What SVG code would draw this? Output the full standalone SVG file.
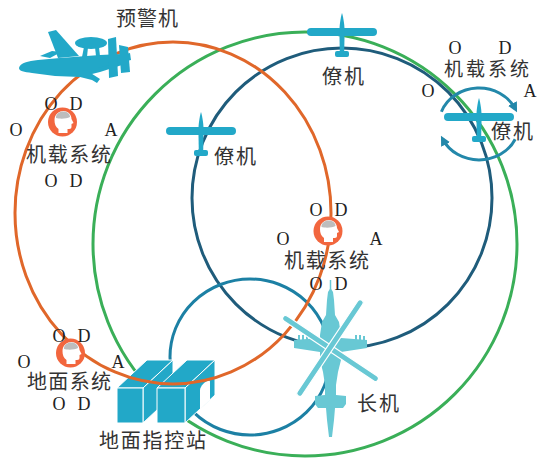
<svg xmlns="http://www.w3.org/2000/svg" xmlns:xlink="http://www.w3.org/1999/xlink" width="538" height="459" viewBox="0 0 538 459">
  <style>
    .ring { fill: none; stroke-width: 3; }
    .lbl { font-family: "Liberation Serif", "Noto Sans CJK SC", serif; font-size: 20px; fill: #333; }
    .oda { font-family: "Liberation Serif", serif; font-size: 18px; fill: #222; }
    .craft { fill: #22A8C8; }
    .heli { fill: #68C8D4; }
    .station path { fill: #22A8C8; stroke: #fff; stroke-width: 1; stroke-linejoin: round; }
    .station path.opening { fill: #fff; stroke: none; }
    .spin { fill: none; stroke: #2388AA; stroke-width: 3; marker-end: url(#spin-head); }
  </style>
  <defs>
    <marker id="spin-head" viewBox="0 0 10 10" refX="6" refY="5" markerWidth="10" markerHeight="10" markerUnits="userSpaceOnUse" orient="auto">
      <path d="M0,0 L10,5 L0,10 Z" fill="#2388AA"/>
    </marker>
    <!-- small fixed-wing drone, fuselage on x=0, wing centred on y=0 -->
    <g id="uav-shape">
      <rect class="craft" x="-35" y="-4" width="70" height="8" rx="4"/>
      <path class="craft" d="M0,-19 C1.6,-14 2.6,-6 2.6,0 L2.2,20 L-2.2,20 L-2.6,0 C-2.6,-6 -1.6,-14 0,-19 Z"/>
      <rect class="craft" x="-7" y="19" width="14" height="6" rx="2"/>
    </g>
    <!-- decision-agent badge: orange disc with a head profile -->
    <g id="agent-icon">
      <circle r="14.5" fill="#F2663E"/>
      <path d="M-8,-2 C-8,-8 -3,-11 1,-11 C6,-11 9,-7 9,-3 L11,1 L9,2 L9,5 C9,7 7,7 5,7 L5,11 L-4,11 L-4,7 C-7,5 -8,2 -8,-2 Z" fill="#fff"/>
      <path d="M-6.5,-4 C-7,-9 -2,-10.5 1,-10.5 C5,-10.5 7.5,-8 7.5,-5 C4,-3 -3,-3 -6.5,-4 Z" fill="#BDBDBD"/>
    </g>
  </defs>

  <!-- communication rings -->
  <g id="connectors">
    <circle class="ring" cx="305" cy="244" r="212" stroke="#3AAF58"/>
    <circle class="ring" cx="342" cy="198" r="150" stroke="#1F5C7B"/>
    <ellipse class="ring" cx="250" cy="357" rx="80" ry="78" stroke="#1C80A4"/>
  </g>

  <!-- ground command station -->
  <g id="ground-station" class="station">
    <path d="M117,388 L143,388 L173,360 L147,360 Z"/>
    <path d="M143,388 L173,360 L173,395 L143,423 Z"/>
    <path d="M117,388 L143,388 L143,423 L117,423 Z"/>
    <path d="M157,388 L185,388 L215,360 L187,360 Z"/>
    <path d="M185,388 L215,360 L215,395 L185,423 Z"/>
    <path d="M157,388 L185,388 L185,423 L157,423 Z"/>
    <path class="opening" d="M200,409 L200,390 C200,385 210,377 210,382 L210,400 Z"/>
  </g>

  <!-- early-warning loop -->
  <g id="connectors-awacs">
    <ellipse class="ring" cx="173" cy="213" rx="158" ry="171" stroke="#E0672A"/>
  </g>

  <!-- rotation arrows around the right wingman -->
  <g id="rotation">
    <path class="spin" d="M441.4,111.7 A40,36 0 0 1 515.2,108.8"/>
    <path class="spin" d="M515.2,139.2 A40,36 0 0 1 442.8,139.2"/>
  </g>

  <!-- early-warning aircraft -->
  <g id="awacs" class="craft">
    <path d="M58,58 L48,32 L56,30 L79,56 Z"/>
    <path d="M40,56 L52,51 L61,52 L50,58 Z"/>
    <ellipse cx="91" cy="43" rx="16" ry="6"/>
    <path d="M84,47 L88,47 L87,57 L82,57 Z"/>
    <path d="M95,47 L99,47 L100,56 L96,56 Z"/>
    <path d="M19,68 C20,63 28,61 38,60 L60,58 L100,55 L122,54 L126,58 L122,65 L100,72 L80,77 L55,76 L32,73 C24,72 19,71 19,68 Z"/>
    <path d="M68,74 L92,80 L97,83 L100,79 L86,70 Z"/>
    <path d="M98,60 L130,53 L131,60 L98,68 Z"/>
    <path d="M108,39 L116,37 L118,76 L109,78 Z"/>
    <path d="M119,45 L128,47 L130,72 L121,73 Z"/>
  </g>

  <!-- wingmen -->
  <g id="uav-top"><use xlink:href="#uav-shape" href="#uav-shape" transform="translate(342,32)"/></g>
  <g id="uav-left"><use xlink:href="#uav-shape" href="#uav-shape" transform="translate(201,131)"/></g>
  <g id="uav-right"><use xlink:href="#uav-shape" href="#uav-shape" transform="translate(479,117)"/></g>

  <!-- lead helicopter -->
  <g id="helicopter">
    <line x1="330.5" y1="280" x2="330.5" y2="290" stroke="#68C8D4" stroke-width="1.5"/>
    <path class="heli" d="M330.5,288 L333,292 L334,300 L335,315 L339,322 L341,335 L341,338 L367,340 L367,348 L341,352 L341,360 L338,372 L336,385 L336,395 L346,396 L346,404 L343,408 L335,408 L334,420 L332,437 L329,437 L327,420 L326,408 L318,408 L315,404 L315,396 L325,395 L325,385 L323,372 L320,360 L320,352 L294,348 L294,340 L320,338 L320,335 L322,322 L326,315 L327,300 L328,292 Z"/>
    <g class="heli">
      <rect x="298" y="335" width="2" height="5"/>
      <rect x="302" y="335" width="2" height="5"/>
      <rect x="306" y="336" width="2" height="4"/>
      <rect x="355" y="335" width="2" height="5"/>
      <rect x="359" y="335" width="2" height="5"/>
      <rect x="363" y="336" width="2" height="4"/>
    </g>
    <rect class="heli" x="-57" y="-3" width="114" height="6" rx="3" stroke="#fff" stroke-width="1.2" transform="translate(330.5,348.5) rotate(33.6)"/>
    <rect class="heli" x="-57.5" y="-3" width="115" height="6" rx="3" stroke="#fff" stroke-width="1.2" transform="translate(330,348) rotate(-56.3)"/>
  </g>

  <!-- decision agents -->
  <g id="agent-awacs"><use xlink:href="#agent-icon" href="#agent-icon" transform="translate(62.5,122)"/></g>
  <g id="agent-lead"><use xlink:href="#agent-icon" href="#agent-icon" transform="translate(328,231)"/></g>
  <g id="agent-ground"><use xlink:href="#agent-icon" href="#agent-icon" transform="translate(70.5,353)"/></g>

  <!-- labels -->
  <g id="labels">
    <text class="lbl" x="116" y="26" textLength="62" lengthAdjust="spacing">预警机</text>
    <text class="lbl" x="26" y="162" textLength="85" lengthAdjust="spacing">机载系统</text>
    <text class="lbl" x="284" y="268" textLength="85" lengthAdjust="spacing">机载系统</text>
    <text class="lbl" x="444" y="76" textLength="85" lengthAdjust="spacing" style="font-size:19px">机载系统</text>
    <text class="lbl" x="27" y="389" textLength="84" lengthAdjust="spacing">地面系统</text>
    <text class="lbl" x="99" y="448" textLength="107" lengthAdjust="spacing">地面指控站</text>
    <text class="lbl" x="357" y="411" textLength="42" lengthAdjust="spacing">长机</text>
    <text class="lbl" x="322" y="84" textLength="42" lengthAdjust="spacing">僚机</text>
    <text class="lbl" x="214" y="164" textLength="42" lengthAdjust="spacing">僚机</text>
    <text class="lbl" x="491" y="139" textLength="42" lengthAdjust="spacing">僚机</text>
  </g>

  <!-- OODA loop letters -->
  <g id="ooda">
    <text class="oda" x="44.5" y="110">O</text><text class="oda" x="69.5" y="110">D</text>
    <text class="oda" x="9.5" y="136">O</text><text class="oda" x="104.5" y="136">A</text>
    <text class="oda" x="44.5" y="187">O</text><text class="oda" x="69.5" y="187">D</text>

    <text class="oda" x="309.5" y="216">O</text><text class="oda" x="334.5" y="216">D</text>
    <text class="oda" x="276.5" y="245">O</text><text class="oda" x="369.5" y="245">A</text>
    <text class="oda" x="309.5" y="290">O</text><text class="oda" x="334.5" y="290">D</text>

    <text class="oda" x="52.5" y="342">O</text><text class="oda" x="77.5" y="342">D</text>
    <text class="oda" x="17.5" y="368">O</text><text class="oda" x="111.5" y="368">A</text>
    <text class="oda" x="52.5" y="410">O</text><text class="oda" x="77.5" y="410">D</text>

    <text class="oda" x="448.5" y="54">O</text><text class="oda" x="498.5" y="54">D</text>
    <text class="oda" x="421.5" y="97">O</text><text class="oda" x="523.5" y="97">A</text>
  </g>
</svg>
